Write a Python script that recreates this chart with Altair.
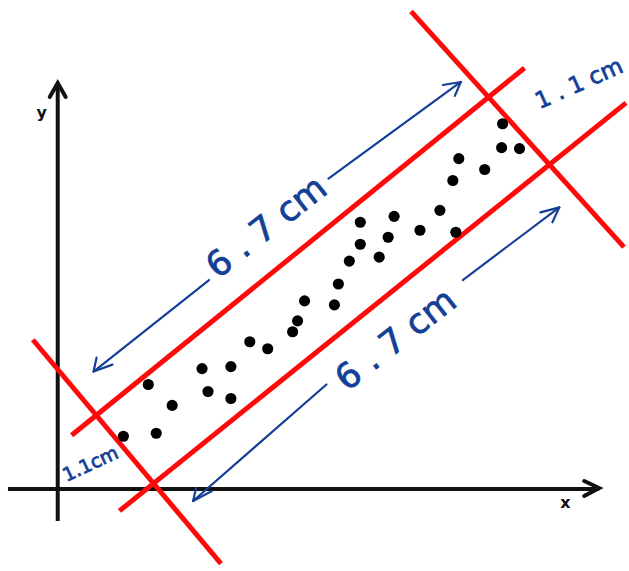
import altair as alt
import pandas as pd

# Scatter points (x, y measured from the origin of the drawn axes)
pts_x = [66, 91, 99, 115, 145, 151, 174, 174, 193, 211, 236, 241, 248, 278, 282,
         293, 304, 304, 323, 332, 338, 364, 384, 397, 403, 400, 429, 447, 446, 464]
pts_y = [53, 105, 56, 84, 121, 98, 123, 91, 148, 141, 158, 169, 189, 185, 206,
         229, 268, 246, 233, 253, 274, 260, 280, 310, 332, 258, 321, 367, 343, 342]

# Coordinate axes: start and end
axis_x1 = [0, -50]
axis_y1 = [-32, 0]
axis_x2 = [0, 544]
axis_y2 = [408, 0]

# Axis arrowheads: barb, tip, barb
axhead_id = ["y", "y", "y", "x", "x", "x"]
axhead_x = [-8, 0, 8, 529, 544, 529]
axhead_y = [394, 408, 394, 8, 1, -7]

# Red band: two parallel edges and two perpendicular ends
red_x1 = [14, 62, -25, 355]
red_y1 = [54, -22, 150, 480]
red_x2 = [469, 571, 164, 569]
red_y2 = [423, 388, -75, 243]

# Blue dimension arrows (segments broken around the labels)
blue_x1 = [36, 272, 136, 407]
blue_y1 = [118, 312, -12, 210]
blue_x2 = [152, 405, 270, 504]
blue_y2 = [210, 409, 105, 283]

# Blue arrowheads: barb, tip, barb
bhead_id = ["a"] * 3 + ["b"] * 3 + ["c"] * 3 + ["d"] * 3
bhead_x = [39, 36, 55, 387, 405, 399, 139, 136, 155, 485, 504, 497]
bhead_y = [132, 118, 125, 406, 409, 395, 1, -12, -2, 278, 283, 268]

# Dimension labels
lab_text = ["6 . 7 cm", "6 . 7 cm", "1 . 1 cm", "1.1cm"]
lab_x = [210, 340, 524, 33]
lab_y = [263, 150, 407, 25]
lab_angle = [322, 322, 336, 335]
lab_size = [35, 35, 23, 19]

# Axis names
name_text = ["y", "x"]
name_x = [-16, 510]
name_y = [378, -14]

X_DOM = [-58, 571]
Y_DOM = [-81, 490]
INK = "#111111"
RED = "#ff0a0a"
BLUE = "#143f96"


def xs(field):
    return alt.X(field, type="quantitative",
                 scale=alt.Scale(domain=X_DOM, nice=False, zero=False), axis=None)


def ys(field):
    return alt.Y(field, type="quantitative",
                 scale=alt.Scale(domain=Y_DOM, nice=False, zero=False), axis=None)


axes_df = pd.DataFrame({"x1": axis_x1, "y1": axis_y1, "x2": axis_x2, "y2": axis_y2})
axhead_df = pd.DataFrame({"id": axhead_id, "x": axhead_x, "y": axhead_y,
                          "k": list(range(len(axhead_x)))})
red_df = pd.DataFrame({"x1": red_x1, "y1": red_y1, "x2": red_x2, "y2": red_y2})
blue_df = pd.DataFrame({"x1": blue_x1, "y1": blue_y1, "x2": blue_x2, "y2": blue_y2})
bhead_df = pd.DataFrame({"id": bhead_id, "x": bhead_x, "y": bhead_y,
                         "k": list(range(len(bhead_x)))})
pts_df = pd.DataFrame({"x": pts_x, "y": pts_y})
lab_df = pd.DataFrame({"t": lab_text, "x": lab_x, "y": lab_y,
                       "a": lab_angle, "s": lab_size})
name_df = pd.DataFrame({"t": name_text, "x": name_x, "y": name_y})

axes = alt.Chart(axes_df).mark_rule(color=INK, strokeWidth=4).encode(
    x=xs("x1"), y=ys("y1"), x2="x2", y2="y2")

axheads = alt.Chart(axhead_df).mark_line(
    color=INK, strokeWidth=4, strokeCap="round", strokeJoin="miter").encode(
    x=xs("x"), y=ys("y"), detail="id:N", order="k:Q")

red = alt.Chart(red_df).mark_rule(color=RED, strokeWidth=5).encode(
    x=xs("x1"), y=ys("y1"), x2="x2", y2="y2")

blue = alt.Chart(blue_df).mark_rule(color=BLUE, strokeWidth=2.2, strokeCap="round").encode(
    x=xs("x1"), y=ys("y1"), x2="x2", y2="y2")

bheads = alt.Chart(bhead_df).mark_line(
    color=BLUE, strokeWidth=2.2, strokeCap="round", strokeJoin="round").encode(
    x=xs("x"), y=ys("y"), detail="id:N", order="k:Q")

dots = alt.Chart(pts_df).mark_circle(color="#000000", opacity=1, size=125).encode(
    x=xs("x"), y=ys("y"))

labels = alt.Chart(lab_df).mark_text(
    color=BLUE, font="DejaVu Sans", fontWeight="normal", align="center",
    baseline="middle", stroke=BLUE, strokeWidth=0.8).encode(
    x=xs("x"), y=ys("y"), text="t:N",
    angle=alt.Angle("a:Q", scale=None),
    size=alt.Size("s:Q", scale=None, legend=None))

names = alt.Chart(name_df).mark_text(
    color=INK, font="DejaVu Sans", fontWeight="bold", fontSize=16,
    align="center", baseline="middle").encode(
    x=xs("x"), y=ys("y"), text="t:N")

chart = alt.layer(axes, axheads, red, blue, bheads, dots, labels, names).properties(
    width=629, height=571, padding=0, background="white"
).configure_view(strokeWidth=0)

chart.save("out.html", embed_options={"renderer": "svg", "actions": False})
